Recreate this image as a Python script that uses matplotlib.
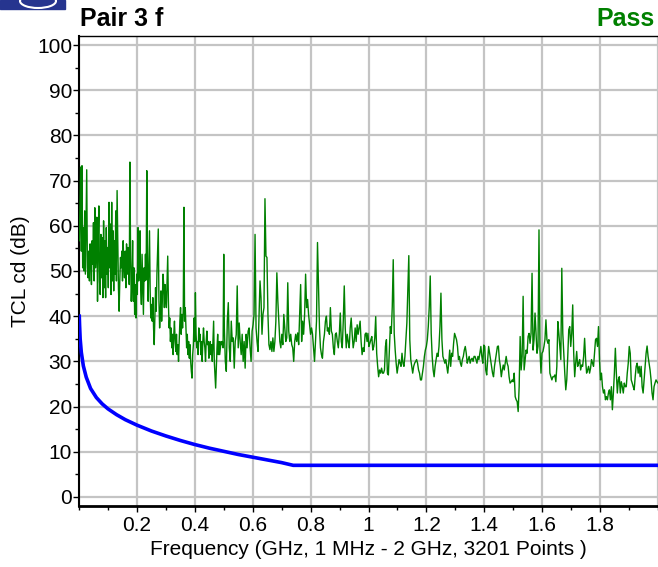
import numpy as np
import matplotlib
matplotlib.use("Agg")
import matplotlib.pyplot as plt
from matplotlib.patches import Rectangle, Ellipse
from matplotlib.ticker import MultipleLocator

plt.rcParams['font.family'] = ['Liberation Sans', 'DejaVu Sans']

# measured TCL (dB), swept in four frequency bands (GHz)
band_a = (0.001, 0.500)
tcl_a = [56.7, 64, 73, 54.4, 73.3, 50.7, 59.6, 50, 63.3, 49.3, 60, 72.4, 50.7, 48.5,
         54.4, 47.8, 56, 53, 47, 56.7, 51.5, 60.7, 47.8, 64, 50.7, 54.4, 61.9, 43.3,
         56.7, 64.4, 47.8, 44.8, 58.1, 48.5, 57.4, 44.1, 61.1, 46.3, 56.7, 44.1, 59.6,
         49.3, 55.2, 46.3, 65.2, 50.7, 60.4, 44.8, 65.2, 47.8, 58.9, 45.6, 56.7, 49.3,
         63.3, 47.8, 67.8, 56.7, 46.3, 41.1, 47.8, 53, 50.7, 54.4, 47.8, 56.7, 50.7,
         48.5, 54.4, 46.3, 56, 49.3, 55.2, 52.2, 47, 74.1, 53, 43.3, 47.8, 56.7, 43.3,
         50.7, 40.4, 47, 39.6, 49.3, 44.8, 59.6, 47.8, 50.7, 58.9, 46.3, 42.6, 53.7,
         47, 40.4, 50.7, 47.8, 53.7, 48, 72.2, 50.7, 43.3, 51.5, 58.9, 45.6, 39.6, 42.6,
         38.9, 44.1, 37.4, 33.7, 40.4, 46.3, 41.1, 49.3, 54.4, 59.3, 43.3, 37.4, 40.4,
         45.6, 38.9, 43.3, 49.3, 47, 41.9, 47, 44.1, 41.9, 47.8, 53.3, 43.3, 37.4, 39.6,
         34.4, 37.4, 33, 36, 31.5, 36, 38.9, 34.4, 32.2, 36, 31.5, 33.7, 30, 34.4, 38.9,
         41.9, 36, 40.4, 37.4, 41.1, 64.1, 38.9, 41.9, 37.4, 33, 36, 31.5, 34.4, 30.7,
         33.7, 30, 27.8, 26.3, 31.5, 33.7, 39.6, 34.4, 45.2, 36, 33, 34.4, 31.5, 37.4,
         34.4, 36, 31.5, 34.4, 30, 34.4, 37.4, 34.4, 33, 30, 34.4, 36.7, 33.7, 34.4,
         30.7, 33, 34.4, 31.5, 33.7, 30, 34.4, 38.9, 30, 27, 24.1, 28.5, 33, 36, 31.5,
         34.4, 31.5, 33, 34.4, 33.7, 34.4, 33, 53.7]

band_b = (0.502, 0.995)
tcl_b = [37.4, 30, 27.8, 38.9, 43, 33, 30, 38.9, 34.4, 35.2, 28.5, 34.4, 35.9, 46.7,
         33, 38.5, 34.4, 31.5, 36, 30, 34.4, 28.5, 36, 33, 36.7, 37.4, 33, 30, 36.7,
         38.1, 40.4, 58.1, 37.4, 34.4, 32.2, 40.4, 47.8, 44.1, 36, 40.4, 41.9, 66, 53.3,
         53, 40.4, 33.7, 32.6, 34.4, 32.2, 35.2, 32.2, 34.4, 38.9, 49.6, 43.3, 38.9,
         34.4, 33, 36, 33.7, 40.4, 37.4, 34.4, 35.2, 47.4, 36.7, 34.4, 36, 33.7, 33, 30,
         34.4, 36, 34.4, 36.3, 33.7, 40.4, 47, 34.4, 38.9, 36, 40.4, 49.3, 41.9, 43.7,
         40.4, 38.1, 36, 37.4, 36, 33, 30, 34.4, 38.9, 56.3, 47, 37.4, 33, 31.5, 30.7,
         34.4, 36, 38.9, 40, 36.7, 37.4, 36, 41.9, 36.7, 36, 33, 31.5, 36, 36.3, 34.4,
         33, 36, 40.7, 34.4, 33, 38.9, 46.7, 37.4, 33, 36, 34.4, 33, 37.4, 39.6, 36, 33,
         34.4, 37.4, 34.4, 38.1, 36, 37.4, 38.9, 34.4, 31.5, 33, 32.2, 36, 36.3, 34.4]

band_c = (0.998, 1.489)
tcl_c = [36.2, 33.3, 34, 34.8, 35.5, 32.5, 33.3, 35.1, 39.9, 31.8, 28.9, 26.6, 28.1,
         27.4, 28.5, 27.4, 27.4, 28.1, 33.3, 34.8, 27.4, 27, 32.5, 37.7, 36.2, 42.1,
         52.5, 36.2, 32.5, 29.6, 27.4, 28.9, 30.4, 29.6, 28.9, 31.8, 29.6, 28.9, 31.1,
         34.8, 38.5, 45.8, 53.4, 34.8, 30.4, 28.9, 27.4, 28.9, 29.6, 30, 30.4, 29.6,
         28.1, 27.4, 25.9, 25.9, 27.4, 28.9, 31.1, 32.5, 33.3, 34.8, 37.7, 42.1, 48.9,
         36.2, 31.1, 28.1, 26.6, 28.9, 30.4, 31.8, 31.1, 33.3, 37.7, 45.1, 34.8, 31.1,
         30.4, 29.6, 30.4, 28.9, 27.4, 29.6, 32.5, 28.9, 31.8, 31.1, 34, 36.2, 35.5,
         34.8, 33.3, 30.4, 31.1, 29.6, 28.9, 30.4, 31.1, 32.5, 33.3, 31.8, 29.6, 30.4,
         31.1, 29.6, 30.4, 30.7, 30, 31.1, 31.1, 30.4, 29.6, 31.1, 30.4, 31.8, 33.3,
         31.1, 29.6, 33.6, 33.3, 28.1, 27, 30.4, 33.3, 31.8, 30.4, 28.9, 27.4, 26.6,
         28.9, 30.4, 31.8, 33.3, 33.4, 30.4, 28.9, 26.6, 28.1, 29.2, 28.1, 29.6, 31.1,
         29.6, 28.9, 26.6, 25.2]

band_d = (1.493, 2.000)
tcl_d = [25.5, 25.9, 25.5, 27.4, 22.2, 21.5, 21.1, 18.9, 24.4, 35.5, 28.1, 31.1, 44.4,
         28.1, 30.4, 32.5, 31.8, 35.5, 36.2, 34, 36.2, 49.5, 32.5, 34.8, 40.7, 36.2,
         31.8, 33.3, 59.1, 32.5, 27.4, 31.8, 32.2, 33.3, 34.8, 39.2, 34.8, 34, 34.8,
         27.4, 26.6, 25.9, 26.6, 26.6, 27, 25.5, 28.9, 38.8, 36.2, 33.3, 30.4, 50.6,
         36.2, 31.8, 27.4, 23.7, 25.9, 31.1, 37, 37.7, 33.3, 36.2, 42.5, 31.8, 26.6,
         29.6, 32.2, 28.9, 29.6, 30.4, 28.1, 29.2, 28.9, 31.1, 35.1, 30.4, 27.4, 28.1,
         28.9, 27.4, 28.5, 30.4, 29.6, 28.9, 31.8, 34.8, 35.1, 33.3, 37.7, 30.4, 25.9,
         27.4, 24.4, 23, 23.7, 21.5, 22.2, 21.5, 23, 23.7, 21.5, 24.4, 19.3, 23, 27.4,
         32.9, 27.4, 23, 25.9, 26.6, 23, 25.5, 24.4, 23, 25.2, 24.4, 24.4, 27.4, 29.6,
         33.3, 31.8, 25.9, 25.2, 24.4, 23.7, 26.6, 28.9, 29.6, 27.4, 28.9, 26.6, 28.9,
         24.4, 23, 25.9, 28.9, 31.8, 33.4, 31.1, 29.6, 28.1, 25.9, 23, 21.5, 24.4, 25.2,
         25.9, 25.5, 25.2]

# TCL limit line
limit_ghz = [0.001, 0.002, 0.004, 0.008, 0.015, 0.025, 0.04, 0.06, 0.08, 0.1, 0.13,
             0.16, 0.2, 0.25, 0.3, 0.35, 0.4, 0.45, 0.5, 0.55, 0.6, 0.65, 0.7, 0.74, 2.0]
limit_db = [40, 38, 35, 32, 29, 26.5, 24, 22, 20.6, 19.5, 18.2, 17.1, 15.9, 14.6, 13.5,
            12.5, 11.6, 10.8, 10.1, 9.4, 8.8, 8.2, 7.6, 7.0, 7.0]

xticks = [0.2, 0.4, 0.6, 0.8, 1.0, 1.2, 1.4, 1.6, 1.8]
xticklabels = ['0.2', '0.4', '0.6', '0.8', '1', '1.2', '1.4', '1.6', '1.8']


def band_freqs(band, values):
    """Frequencies of an evenly spaced sweep band."""
    return np.linspace(band[0], band[1], len(values))


bands = [(band_a, tcl_a), (band_b, tcl_b), (band_c, tcl_c), (band_d, tcl_d)]
freq = np.concatenate([band_freqs(b, v) for b, v in bands])
tcl = np.concatenate([v for b, v in bands])

W, H = 658, 567
fig = plt.figure(figsize=(W / 100, H / 100), dpi=100)
ax = fig.add_axes([79 / W, 61 / H, 579 / W, 470 / H])

ax.plot(freq, tcl, color='#008000', lw=1.0, zorder=3)
ax.plot(limit_ghz, limit_db, color='#0000ff', lw=2.6, zorder=4)

ax.set_xlim(0, 2.0)
ax.set_ylim(-2, 102)
ax.set_xticks(xticks)
ax.set_xticklabels(xticklabels)
ax.xaxis.set_minor_locator(MultipleLocator(0.1))
ax.set_yticks(np.arange(0, 101, 10))
ax.yaxis.set_minor_locator(MultipleLocator(5))

for x in np.arange(0, 2.01, 0.2):
    ax.axvline(x, color='#c4c4c4', lw=1.6, zorder=1)
for y in range(0, 101, 10):
    ax.axhline(y, color='#c4c4c4', lw=1.6, zorder=1)

ax.tick_params(axis='both', which='major', labelsize=15, length=4, width=1, pad=1)
ax.tick_params(axis='x', which='major', pad=3)
ax.tick_params(axis='both', which='minor', length=3, width=1)

ax.spines['right'].set_visible(False)
ax.spines['left'].set_linewidth(1.5)
ax.spines['bottom'].set_linewidth(2)
ax.spines['top'].set_linewidth(1)

ax.set_xlabel('Frequency (GHz, 1 MHz - 2 GHz, 3201 Points )', fontsize=15, labelpad=4)
ax.set_ylabel('TCL cd (dB)', fontsize=15, labelpad=5)

fig.text(80 / W, 1 - 19 / H, 'Pair 3 f', fontsize=18, fontweight='bold',
         ha='left', va='center')
fig.text(655 / W, 1 - 19 / H, 'Pass', fontsize=18, fontweight='bold',
         color='#008000', ha='right', va='center')

# corner logo strip
fig.add_artist(Rectangle((0, 1 - 9 / H), 65 / W, 9 / H, transform=fig.transFigure,
                         color='#26358f', zorder=0))
fig.add_artist(Ellipse((38 / W, 1 - 1 / H), 36 / W, 14 / H, transform=fig.transFigure,
                       fill=False, edgecolor='white', lw=1.5, zorder=1))

fig.savefig('out.png', dpi=100)
